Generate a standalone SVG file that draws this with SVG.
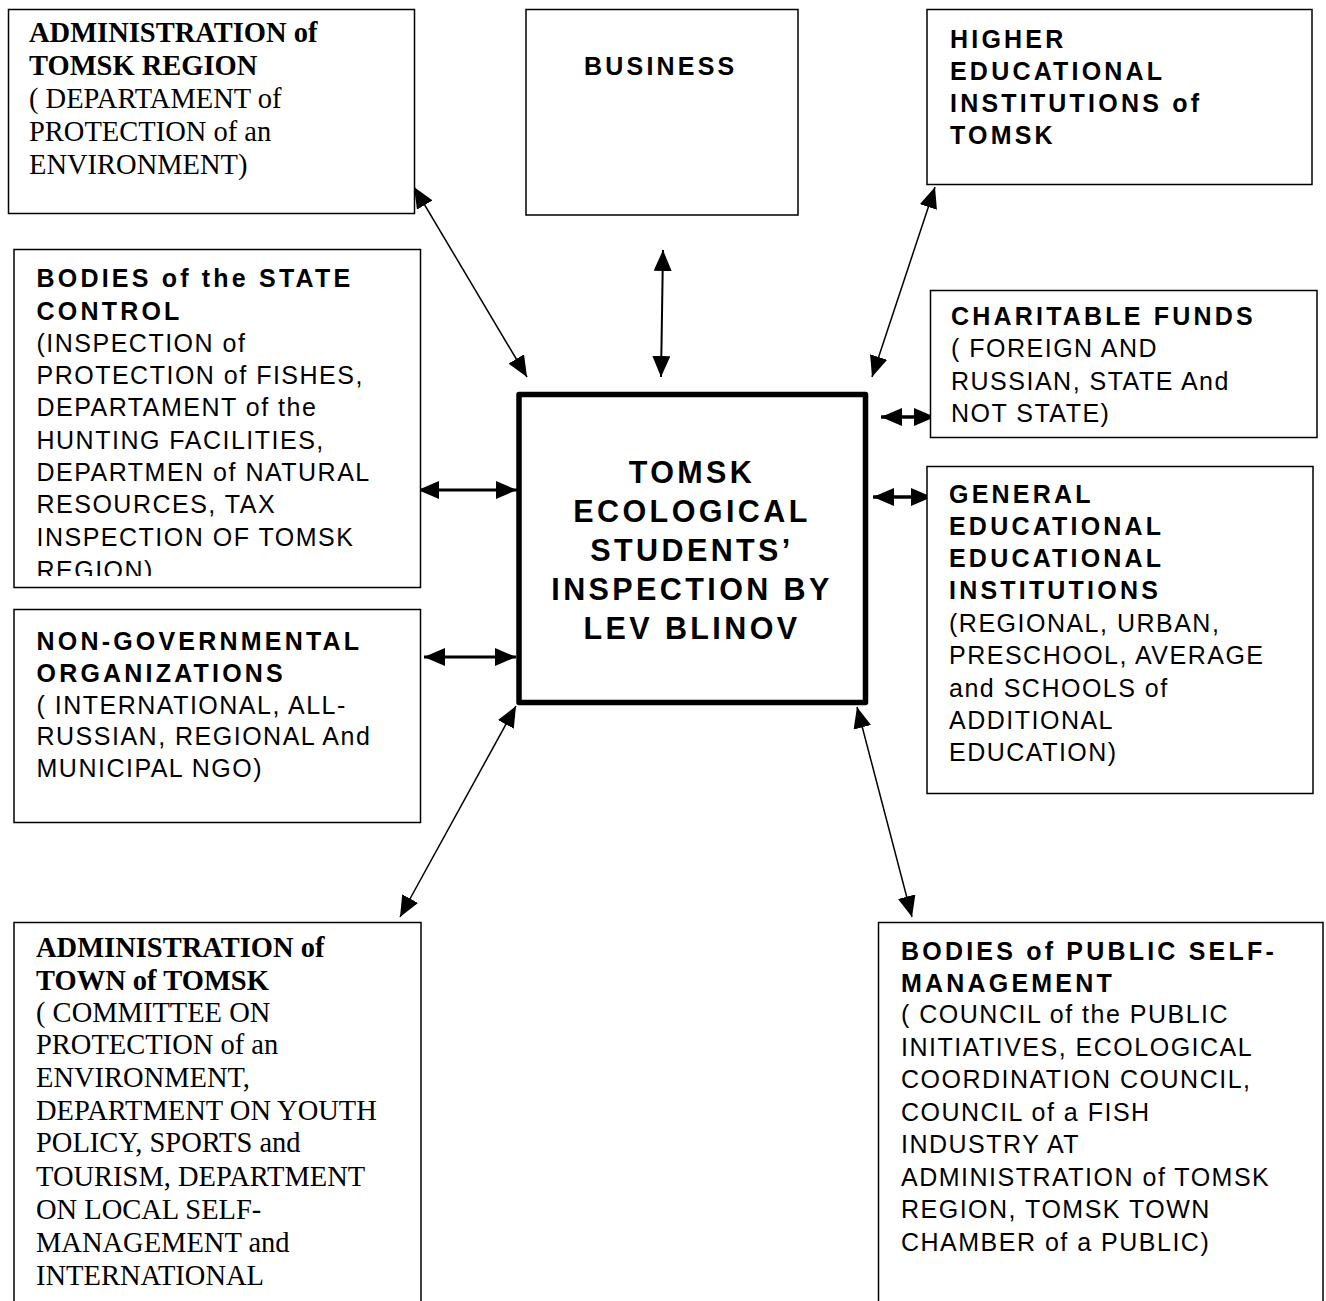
<svg xmlns="http://www.w3.org/2000/svg" width="1326" height="1301" viewBox="0 0 1326 1301">
<style>
.box{fill:#fff;stroke:#000;stroke-width:1.5}
.main{fill:#fff;stroke:#000;stroke-width:5.5;stroke-linejoin:round}
.s{font-family:"Liberation Sans",Arial,sans-serif;font-size:25px;letter-spacing:1.5px;fill:#000}
.sb{font-family:"Liberation Sans",Arial,sans-serif;font-size:25px;font-weight:bold;letter-spacing:3.2px;fill:#000}
.r{font-family:"Liberation Serif","Times New Roman",serif;font-size:28.5px;fill:#000}
.rb{font-family:"Liberation Serif","Times New Roman",serif;font-size:28.5px;font-weight:bold;fill:#000}
.c{font-family:"Liberation Sans",Arial,sans-serif;font-size:30.5px;font-weight:bold;letter-spacing:3.4px;fill:#000;text-anchor:middle}
.ln{stroke:#000;fill:none;marker-start:url(#ah);marker-end:url(#ah)}
</style>
<defs>
<marker id="ah" markerUnits="userSpaceOnUse" markerWidth="21" markerHeight="18" refX="21" refY="9" orient="auto-start-reverse" viewBox="0 0 21 18">
<path d="M0,0 L21,9 L0,18 Z" fill="#000"/>
</marker>
<clipPath id="clipState"><rect x="0" y="240" width="440" height="336"/></clipPath>
</defs>
<rect x="0" y="0" width="1326" height="1301" fill="#fff"/>

<g id="connectors">
<line class="ln" x1="414" y1="187" x2="527" y2="377" stroke-width="1.5"/>
<line class="ln" x1="663" y1="250" x2="661" y2="377" stroke-width="2"/>
<line class="ln" x1="935" y1="187" x2="872" y2="377" stroke-width="1.5"/>
<line class="ln" x1="418" y1="490" x2="517" y2="490" stroke-width="3"/>
<line class="ln" x1="424" y1="657" x2="516" y2="657" stroke-width="3"/>
<line class="ln" x1="881" y1="417" x2="935" y2="417" stroke-width="3.5"/>
<line class="ln" x1="873" y1="497" x2="932" y2="497" stroke-width="3.5"/>
<line class="ln" x1="516" y1="706" x2="400" y2="917" stroke-width="1.5"/>
<line class="ln" x1="857" y1="707" x2="912" y2="917" stroke-width="1.5"/>
</g>

<g id="admin-region">
<rect class="box" x="8.5" y="9.5" width="406" height="204"/>
<text class="rb" x="29" y="42">ADMINISTRATION of</text>
<text class="rb" x="29" y="75">TOMSK REGION</text>
<text class="r" x="29" y="108">( DEPARTAMENT of</text>
<text class="r" x="29" y="141">PROTECTION of an</text>
<text class="r" x="29" y="174">ENVIRONMENT)</text>
</g>

<g id="business">
<rect class="box" x="526" y="9.5" width="272" height="205.5"/>
<text class="sb" x="584" y="75">BUSINESS</text>
</g>

<g id="higher">
<rect class="box" x="927" y="9.5" width="385" height="175"/>
<text class="sb" x="950" y="48">HIGHER</text>
<text class="sb" x="950" y="80">EDUCATIONAL</text>
<text class="sb" x="950" y="112">INSTITUTIONS of</text>
<text class="sb" x="950" y="144">TOMSK</text>
</g>

<g id="state-control">
<rect class="box" x="14" y="249.5" width="406.5" height="338"/>
<g clip-path="url(#clipState)">
<text class="sb" x="36.5" y="287">BODIES of the STATE</text>
<text class="sb" x="36.5" y="319.5">CONTROL</text>
<text class="s" x="36.5" y="351.5">(INSPECTION of</text>
<text class="s" x="36.5" y="384">PROTECTION of FISHES,</text>
<text class="s" x="36.5" y="416">DEPARTAMENT of the</text>
<text class="s" x="36.5" y="448.5">HUNTING FACILITIES,</text>
<text class="s" x="36.5" y="481">DEPARTMEN of NATURAL</text>
<text class="s" x="36.5" y="513">RESOURCES, TAX</text>
<text class="s" x="36.5" y="545.5">INSPECTION OF TOMSK</text>
<text class="s" x="36.5" y="579">REGION)</text>
</g>
</g>

<g id="charitable">
<rect class="box" x="930.5" y="290.5" width="386.5" height="147"/>
<text class="sb" x="951" y="325">CHARITABLE FUNDS</text>
<text class="s" x="951" y="357">( FOREIGN AND</text>
<text class="s" x="951" y="390">RUSSIAN, STATE And</text>
<text class="s" x="951" y="422">NOT STATE)</text>
</g>

<g id="general-edu">
<rect class="box" x="927" y="466.5" width="386" height="327"/>
<text class="sb" x="949" y="503">GENERAL</text>
<text class="sb" x="949" y="535">EDUCATIONAL</text>
<text class="sb" x="949" y="567">EDUCATIONAL</text>
<text class="sb" x="949" y="599">INSTITUTIONS</text>
<text class="s" x="949" y="632">(REGIONAL, URBAN,</text>
<text class="s" x="949" y="664">PRESCHOOL, AVERAGE</text>
<text class="s" x="949" y="697">and SCHOOLS of</text>
<text class="s" x="949" y="729">ADDITIONAL</text>
<text class="s" x="949" y="761">EDUCATION)</text>
</g>

<g id="ngo">
<rect class="box" x="14" y="609.5" width="406.5" height="213"/>
<text class="sb" x="36.5" y="650">NON-GOVERNMENTAL</text>
<text class="sb" x="36.5" y="682">ORGANIZATIONS</text>
<text class="s" x="36.5" y="713.5">( INTERNATIONAL, ALL-</text>
<text class="s" x="36.5" y="745">RUSSIAN, REGIONAL And</text>
<text class="s" x="36.5" y="777">MUNICIPAL NGO)</text>
</g>

<g id="center">
<rect class="main" x="519" y="394.5" width="346.5" height="308"/>
<text class="c" x="692" y="483">TOMSK</text>
<text class="c" x="692" y="522">ECOLOGICAL</text>
<text class="c" x="692" y="561">STUDENTS’</text>
<text class="c" x="692" y="600">INSPECTION BY</text>
<text class="c" x="692" y="639">LEV BLINOV</text>
</g>

<g id="admin-town">
<rect class="box" x="14" y="922.5" width="407" height="420"/>
<text class="rb" x="36" y="957">ADMINISTRATION of</text>
<text class="rb" x="36" y="990">TOWN of TOMSK</text>
<text class="r" x="36" y="1022">( COMMITTEE ON</text>
<text class="r" x="36" y="1054">PROTECTION of an</text>
<text class="r" x="36" y="1087">ENVIRONMENT,</text>
<text class="r" x="36" y="1120">DEPARTMENT ON YOUTH</text>
<text class="r" x="36" y="1152">POLICY, SPORTS and</text>
<text class="r" x="36" y="1186">TOURISM, DEPARTMENT</text>
<text class="r" x="36" y="1219">ON LOCAL SELF-</text>
<text class="r" x="36" y="1252">MANAGEMENT and</text>
<text class="r" x="36" y="1285">INTERNATIONAL</text>
</g>

<g id="public-self-management">
<rect class="box" x="878.5" y="922.5" width="444.5" height="420"/>
<text class="sb" x="901" y="960">BODIES of PUBLIC SELF-</text>
<text class="sb" x="901" y="992">MANAGEMENT</text>
<text class="s" x="901" y="1023">( COUNCIL of the PUBLIC</text>
<text class="s" x="901" y="1056">INITIATIVES, ECOLOGICAL</text>
<text class="s" x="901" y="1088">COORDINATION COUNCIL,</text>
<text class="s" x="901" y="1121">COUNCIL of a FISH</text>
<text class="s" x="901" y="1153">INDUSTRY AT</text>
<text class="s" x="901" y="1185.5">ADMINISTRATION of TOMSK</text>
<text class="s" x="901" y="1218">REGION, TOMSK TOWN</text>
<text class="s" x="901" y="1250.5">CHAMBER of a PUBLIC)</text>
</g>
</svg>
